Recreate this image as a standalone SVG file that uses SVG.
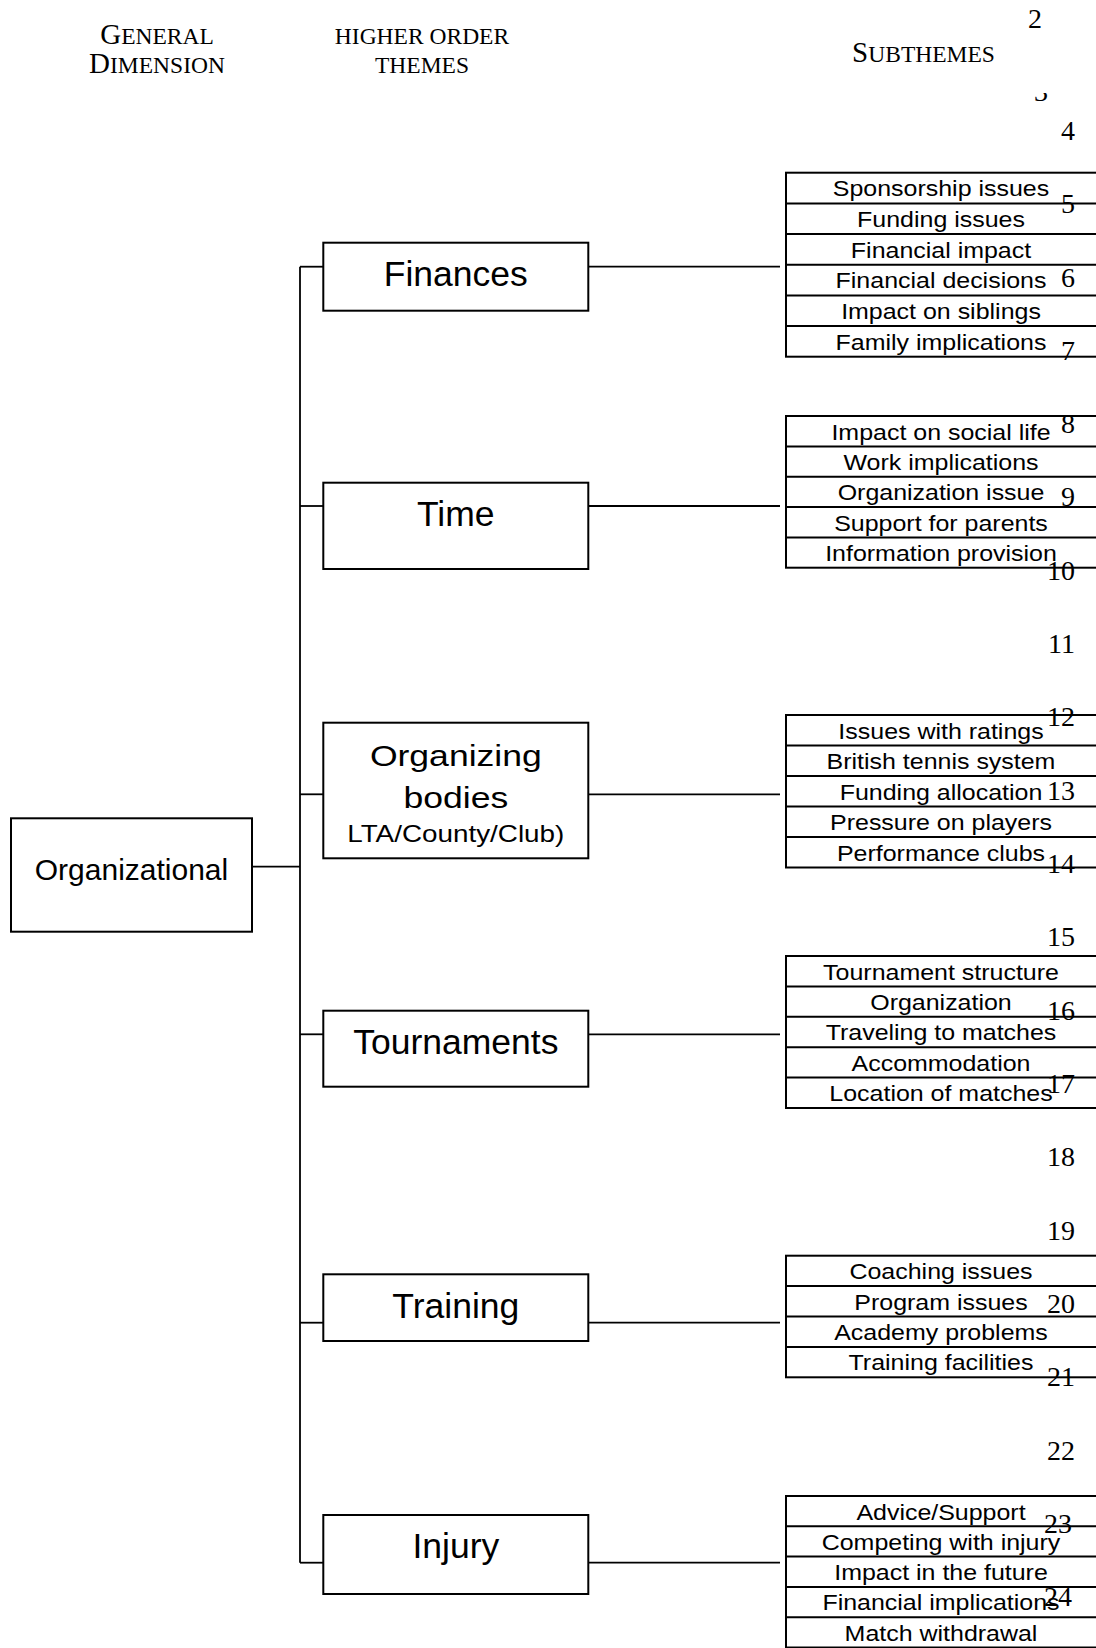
<svg xmlns="http://www.w3.org/2000/svg" width="1096" height="1648" viewBox="0 0 1096 1648">
<defs>
<style>
.box{fill:#fff;stroke:#000;stroke-width:2}
.row{stroke:#000;stroke-width:2}
.conn{stroke:#000;stroke-width:1.8;fill:none}
.theme{font-family:"Liberation Sans",Arial,sans-serif;font-size:35.5px;text-anchor:middle;fill:#000}
.sub{font-family:"Liberation Sans",Arial,sans-serif;font-size:22px;text-anchor:middle;fill:#000}
.num{font-family:"Liberation Serif","Times New Roman",serif;font-size:28px;text-anchor:end;fill:#000}
.hdr{font-family:"Liberation Serif","Times New Roman",serif;font-size:23.5px;text-anchor:middle;fill:#000}
.cap{font-size:29px}
</style>
<clipPath id="clip3"><rect x="1020" y="93" width="60" height="20"/></clipPath>
</defs>
<rect width="1096" height="1648" fill="#fff"/>

<g id="headers">
<text class="hdr" x="157" y="44"><tspan class="cap">G</tspan>ENERAL</text>
<text class="hdr" x="157" y="73.3"><tspan class="cap">D</tspan>IMENSION</text>
<text class="hdr" x="422" y="44">HIGHER ORDER</text>
<text class="hdr" x="422" y="73.3">THEMES</text>
<text class="hdr" x="923.5" y="62.3"><tspan class="cap">S</tspan>UBTHEMES</text>
</g>

<g id="connectors">
<line class="conn" x1="300" y1="266.7" x2="300" y2="1562.7"/>
<line class="conn" x1="252" y1="866.7" x2="300" y2="866.7"/>
<line class="conn" x1="300" y1="266.7" x2="323.3" y2="266.7"/>
<line class="conn" x1="300" y1="506" x2="323.3" y2="506"/>
<line class="conn" x1="300" y1="794.3" x2="323.3" y2="794.3"/>
<line class="conn" x1="300" y1="1034.3" x2="323.3" y2="1034.3"/>
<line class="conn" x1="300" y1="1322.7" x2="323.3" y2="1322.7"/>
<line class="conn" x1="300" y1="1562.7" x2="323.3" y2="1562.7"/>
<line class="conn" x1="588.3" y1="266.7" x2="780" y2="266.7"/>
<line class="conn" x1="588.3" y1="506" x2="780" y2="506"/>
<line class="conn" x1="588.3" y1="794.3" x2="780" y2="794.3"/>
<line class="conn" x1="588.3" y1="1034.3" x2="780" y2="1034.3"/>
<line class="conn" x1="588.3" y1="1322.7" x2="780" y2="1322.7"/>
<line class="conn" x1="588.3" y1="1562.7" x2="780" y2="1562.7"/>
</g>

<g id="organizational">
<rect class="box" x="11" y="818.3" width="241" height="113.4"/>
<text class="theme" style="font-size:30px" x="131.5" y="880">Organizational</text>
</g>

<g id="finances">
<rect class="box" x="323.3" y="242.7" width="265" height="68"/>
<text class="theme" x="455.8" y="285.7">Finances</text>
</g>
<g id="time">
<rect class="box" x="323.3" y="482.7" width="265" height="86.3"/>
<text class="theme" x="455.8" y="525.7">Time</text>
</g>
<g id="organizing-bodies">
<rect class="box" x="323.3" y="722.7" width="265" height="135.6"/>
<text class="theme" style="font-size:30px" transform="translate(455.8,765.7) scale(1.185,1)">Organizing</text>
<text class="theme" style="font-size:30px" transform="translate(455.8,807.7) scale(1.185,1)">bodies</text>
<text class="theme" style="font-size:24px" transform="translate(455.8,841.7) scale(1.16,1)">LTA/County/Club)</text>
</g>
<g id="tournaments">
<rect class="box" x="323.3" y="1010.7" width="265" height="76"/>
<text class="theme" x="455.8" y="1054">Tournaments</text>
</g>
<g id="training">
<rect class="box" x="323.3" y="1274.3" width="265" height="66.7"/>
<text class="theme" x="455.8" y="1318.3">Training</text>
</g>
<g id="injury">
<rect class="box" x="323.3" y="1515" width="265" height="79"/>
<text class="theme" x="455.8" y="1558.3">Injury</text>
</g>

<g id="sub-finances">
<rect class="box" x="786" y="172.7" width="330" height="184"/>
<line class="row" x1="786" y1="203.4" x2="1100" y2="203.4"/>
<line class="row" x1="786" y1="234" x2="1100" y2="234"/>
<line class="row" x1="786" y1="264.7" x2="1100" y2="264.7"/>
<line class="row" x1="786" y1="295.4" x2="1100" y2="295.4"/>
<line class="row" x1="786" y1="326" x2="1100" y2="326"/>
<text class="sub" transform="translate(941,196.2) scale(1.135,1)">Sponsorship issues</text>
<text class="sub" transform="translate(941,226.9) scale(1.135,1)">Funding issues</text>
<text class="sub" transform="translate(941,257.5) scale(1.135,1)">Financial impact</text>
<text class="sub" transform="translate(941,288.2) scale(1.135,1)">Financial decisions</text>
<text class="sub" transform="translate(941,318.9) scale(1.135,1)">Impact on siblings</text>
<text class="sub" transform="translate(941,349.5) scale(1.135,1)">Family implications</text>
</g>

<g id="sub-time">
<rect class="box" x="786" y="416" width="330" height="151.7"/>
<line class="row" x1="786" y1="446.4" x2="1100" y2="446.4"/>
<line class="row" x1="786" y1="476.7" x2="1100" y2="476.7"/>
<line class="row" x1="786" y1="507" x2="1100" y2="507"/>
<line class="row" x1="786" y1="537.4" x2="1100" y2="537.4"/>
<text class="sub" transform="translate(941,439.5) scale(1.135,1)">Impact on social life</text>
<text class="sub" transform="translate(941,469.9) scale(1.135,1)">Work implications</text>
<text class="sub" transform="translate(941,500.2) scale(1.135,1)">Organization issue</text>
<text class="sub" transform="translate(941,530.6) scale(1.135,1)">Support for parents</text>
<text class="sub" transform="translate(941,560.9) scale(1.135,1)">Information provision</text>
</g>

<g id="sub-organizing-bodies">
<rect class="box" x="786" y="715" width="330" height="152.5"/>
<line class="row" x1="786" y1="745.5" x2="1100" y2="745.5"/>
<line class="row" x1="786" y1="776" x2="1100" y2="776"/>
<line class="row" x1="786" y1="806.5" x2="1100" y2="806.5"/>
<line class="row" x1="786" y1="837" x2="1100" y2="837"/>
<text class="sub" transform="translate(941,738.5) scale(1.135,1)">Issues with ratings</text>
<text class="sub" transform="translate(941,769) scale(1.135,1)">British tennis system</text>
<text class="sub" transform="translate(941,799.5) scale(1.135,1)">Funding allocation</text>
<text class="sub" transform="translate(941,830) scale(1.135,1)">Pressure on players</text>
<text class="sub" transform="translate(941,860.5) scale(1.135,1)">Performance clubs</text>
</g>

<g id="sub-tournaments">
<rect class="box" x="786" y="956" width="330" height="152"/>
<line class="row" x1="786" y1="986.4" x2="1100" y2="986.4"/>
<line class="row" x1="786" y1="1016.8" x2="1100" y2="1016.8"/>
<line class="row" x1="786" y1="1047.2" x2="1100" y2="1047.2"/>
<line class="row" x1="786" y1="1077.6" x2="1100" y2="1077.6"/>
<text class="sub" transform="translate(941,979.5) scale(1.135,1)">Tournament structure</text>
<text class="sub" transform="translate(941,1009.9) scale(1.135,1)">Organization</text>
<text class="sub" transform="translate(941,1040.3) scale(1.135,1)">Traveling to matches</text>
<text class="sub" transform="translate(941,1070.7) scale(1.135,1)">Accommodation</text>
<text class="sub" transform="translate(941,1101.1) scale(1.135,1)">Location of matches</text>
</g>

<g id="sub-training">
<rect class="box" x="786" y="1255.7" width="330" height="121.6"/>
<line class="row" x1="786" y1="1286.1" x2="1100" y2="1286.1"/>
<line class="row" x1="786" y1="1316.5" x2="1100" y2="1316.5"/>
<line class="row" x1="786" y1="1346.9" x2="1100" y2="1346.9"/>
<text class="sub" transform="translate(941,1279.2) scale(1.135,1)">Coaching issues</text>
<text class="sub" transform="translate(941,1309.6) scale(1.135,1)">Program issues</text>
<text class="sub" transform="translate(941,1340) scale(1.135,1)">Academy problems</text>
<text class="sub" transform="translate(941,1370.4) scale(1.135,1)">Training facilities</text>
</g>

<g id="sub-injury">
<rect class="box" x="786" y="1496" width="330" height="151.5"/>
<line class="row" x1="786" y1="1526.3" x2="1100" y2="1526.3"/>
<line class="row" x1="786" y1="1556.6" x2="1100" y2="1556.6"/>
<line class="row" x1="786" y1="1586.9" x2="1100" y2="1586.9"/>
<line class="row" x1="786" y1="1617.2" x2="1100" y2="1617.2"/>
<text class="sub" transform="translate(941,1519.5) scale(1.135,1)">Advice/Support</text>
<text class="sub" transform="translate(941,1549.8) scale(1.135,1)">Competing with injury</text>
<text class="sub" transform="translate(941,1580.1) scale(1.135,1)">Impact in the future</text>
<text class="sub" transform="translate(941,1610.4) scale(1.135,1)">Financial implications</text>
<text class="sub" transform="translate(941,1640.7) scale(1.135,1)">Match withdrawal</text>
</g>

<g id="line-numbers">
<text class="num" x="1042" y="28">2</text>
<text class="num" x="1048" y="101" clip-path="url(#clip3)">3</text>
<text class="num" x="1075" y="140">4</text>
<text class="num" x="1075" y="213">5</text>
<text class="num" x="1075" y="287">6</text>
<text class="num" x="1075" y="360">7</text>
<text class="num" x="1075" y="433">8</text>
<text class="num" x="1075" y="506">9</text>
<text class="num" x="1075" y="580">10</text>
<text class="num" x="1075" y="653">11</text>
<text class="num" x="1075" y="726">12</text>
<text class="num" x="1075" y="800">13</text>
<text class="num" x="1075" y="873">14</text>
<text class="num" x="1075" y="946">15</text>
<text class="num" x="1075" y="1020">16</text>
<text class="num" x="1075" y="1093">17</text>
<text class="num" x="1075" y="1166">18</text>
<text class="num" x="1075" y="1240">19</text>
<text class="num" x="1075" y="1313">20</text>
<text class="num" x="1075" y="1386">21</text>
<text class="num" x="1075" y="1460">22</text>
<text class="num" x="1072" y="1533">23</text>
<text class="num" x="1072" y="1606">24</text>
</g>
</svg>
